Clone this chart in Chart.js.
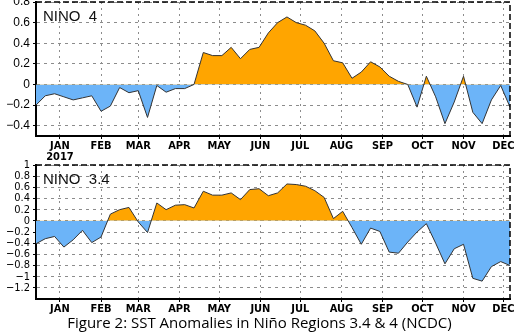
<!DOCTYPE html>
<html>
<head>
<meta charset="utf-8">
<script src="https://cdn.jsdelivr.net/npm/chart.js@4.4.1/dist/chart.umd.min.js"></script>
<style>
  body { margin: 0; background: #fff; }
  #wrap { position: relative; width: 519px; height: 336px; overflow: hidden; }
  canvas { position: absolute; left: 0; }
  #nino4 { top: 0; }
  #nino34 { top: 160px; }
  #caption {
    position: absolute; left: 0; top: 315px; width: 519px;
    text-align: center; font: 15px/15px 'Open Sans', sans-serif; color: #000;
  }
</style>
</head>
<body>
<div id="wrap">
  <canvas id="nino4" width="519" height="168"></canvas>
  <canvas id="nino34" width="519" height="158"></canvas>
  <div id="caption">Figure 2: SST Anomalies in Niño Regions 3.4 &amp; 4 (NCDC)</div>
</div>
<script>
// weekly values, first week centred on Dec 28 2016 (day -4 of 2017)
var firstWeekDay = -4;
var monthLabels = ['JAN', 'FEB', 'MAR', 'APR', 'MAY', 'JUN', 'JUL', 'AUG', 'SEP', 'OCT', 'NOV', 'DEC'];
var midMonthDays = [14, 45, 73, 104, 134, 165, 195, 226, 257, 287, 318, 348];
var yearLabel = '2017';

var nino4 = [
  -0.20, -0.11, -0.09, -0.12, -0.15, -0.13, -0.11, -0.26, -0.21, -0.03,
  -0.08, -0.06, -0.32, -0.01, -0.075, -0.04, -0.04, 0.00, 0.31, 0.28,
  0.28, 0.36, 0.25, 0.34, 0.36, 0.50, 0.60, 0.655, 0.60, 0.575,
  0.52, 0.40, 0.23, 0.21, 0.06, 0.12, 0.22, 0.17, 0.08, 0.03,
  0.00, -0.22, 0.08, -0.12, -0.38, -0.17, 0.08, -0.27, -0.38, -0.15,
  -0.01, -0.22
];
var nino34 = [
  -0.41, -0.32, -0.28, -0.47, -0.34, -0.17, -0.39, -0.29, 0.12, 0.20,
  0.24, -0.02, -0.21, 0.32, 0.20, 0.28, 0.29, 0.23, 0.53, 0.46,
  0.46, 0.50, 0.38, 0.56, 0.575, 0.45, 0.50, 0.66, 0.65, 0.62,
  0.54, 0.42, 0.04, 0.17, -0.12, -0.42, -0.13, -0.19, -0.56, -0.58,
  -0.38, -0.20, -0.05, -0.40, -0.77, -0.50, -0.42, -1.03, -1.08, -0.82,
  -0.73, -0.80
];
var nino4Ticks = [-0.4, -0.2, 0, 0.2, 0.4, 0.6, 0.8];
var nino34Ticks = [-1.2, -1, -0.8, -0.6, -0.4, -0.2, 0, 0.2, 0.4, 0.6, 0.8, 1];

var warmColor = '#FFA500';
var coolColor = 'rgb(108, 180, 248)';

// dashed top/right frame plus the region name inside the plot
var panelFrame = {
  id: 'panelFrame',
  afterDraw: function(chart, args, opts) {
    var ctx = chart.ctx, a = chart.chartArea;
    ctx.save();
    ctx.strokeStyle = '#000';
    ctx.lineWidth = 1.5;
    ctx.setLineDash([6, 3]);
    ctx.beginPath();
    ctx.moveTo(a.left, a.top);
    ctx.lineTo(a.right, a.top);
    ctx.lineTo(a.right, a.bottom);
    ctx.stroke();
    ctx.setLineDash([]);
    ctx.fillStyle = '#111';
    ctx.font = '15px "Liberation Sans", Arial, sans-serif';
    ctx.textBaseline = 'alphabetic';
    ctx.fillText(opts.text, a.left + 7, a.top + 19);
    ctx.restore();
  }
};

function formatTick(v) {
  return v === 0 ? '0' : String(v).replace('-', '\u2212');
}

function drawPanel(id, name, values, yTicks, yMin, yMax, opts) {
  var points = values.map(function(v, i) { return { x: i, y: v }; });
  return new Chart(document.getElementById(id), {
    type: 'line',
    data: {
      datasets: [{
        data: points,
        borderColor: '#333',
        borderWidth: 1,
        pointRadius: 0,
        tension: 0,
        fill: { target: { value: 0 }, above: warmColor, below: coolColor }
      }]
    },
    options: {
      responsive: false,
      animation: false,
      devicePixelRatio: 1,
      layout: {
        autoPadding: false,
        padding: { top: opts.padTop, right: 9, left: 0, bottom: 0 }
      },
      plugins: {
        legend: { display: false },
        tooltip: { enabled: false },
        panelFrame: { text: name }
      },
      scales: {
        x: {
          type: 'linear',
          min: 0,
          max: values.length - 1,
          z: 1,
          afterFit: function(scale) {
            scale.height = opts.xAxisHeight;
            scale.paddingLeft = 0;
            scale.paddingRight = 0;
          },
          afterBuildTicks: function(scale) {
            scale.ticks = midMonthDays.map(function(d) {
              return { value: (d - firstWeekDay) / 7 };
            });
          },
          ticks: {
            autoSkip: false,
            maxRotation: 0,
            padding: 1,
            color: '#000',
            font: { family: '"Liberation Sans Narrow", "DejaVu Sans Condensed", sans-serif', size: 11, weight: 'bold', lineHeight: 1.05 },
            callback: function(v, i) {
              return (i === 0 && opts.showYear) ? [monthLabels[i], yearLabel] : monthLabels[i];
            }
          },
          grid: { color: '#8c8c8c', lineWidth: 1, tickLength: 3, tickColor: '#000', tickBorderDash: [] },
          border: { color: '#000', width: 2, dash: [2, 4] }
        },
        y: {
          min: yMin,
          max: yMax,
          z: 1,
          afterFit: function(scale) {
            scale.width = 36;
            scale.paddingTop = 0;
            scale.paddingBottom = 0;
          },
          afterBuildTicks: function(scale) {
            scale.ticks = yTicks.map(function(v) { return { value: v }; });
          },
          ticks: {
            autoSkip: false,
            padding: 3,
            color: '#000',
            font: opts.yFont,
            callback: function(v) { return formatTick(v); }
          },
          grid: { color: '#8c8c8c', lineWidth: 1, tickLength: 3, tickColor: '#000', tickBorderDash: [] },
          border: { color: '#000', width: 2, dash: [3, 4] }
        }
      }
    },
    plugins: [panelFrame]
  });
}

drawPanel('nino4', 'NINO  4', nino4, nino4Ticks, -0.5, 0.8, {
  padTop: 2, xAxisHeight: 32, showYear: true,
  yFont: { family: '"Liberation Sans", Arial, sans-serif', size: 12 }
});
drawPanel('nino34', 'NINO  3.4', nino34, nino34Ticks, -1.4, 1.0, {
  padTop: 5, xAxisHeight: 19, showYear: false,
  yFont: { family: '"Liberation Sans Narrow", "DejaVu Sans Condensed", sans-serif', size: 11, lineHeight: 1 }
});
</script>
</body>
</html>
